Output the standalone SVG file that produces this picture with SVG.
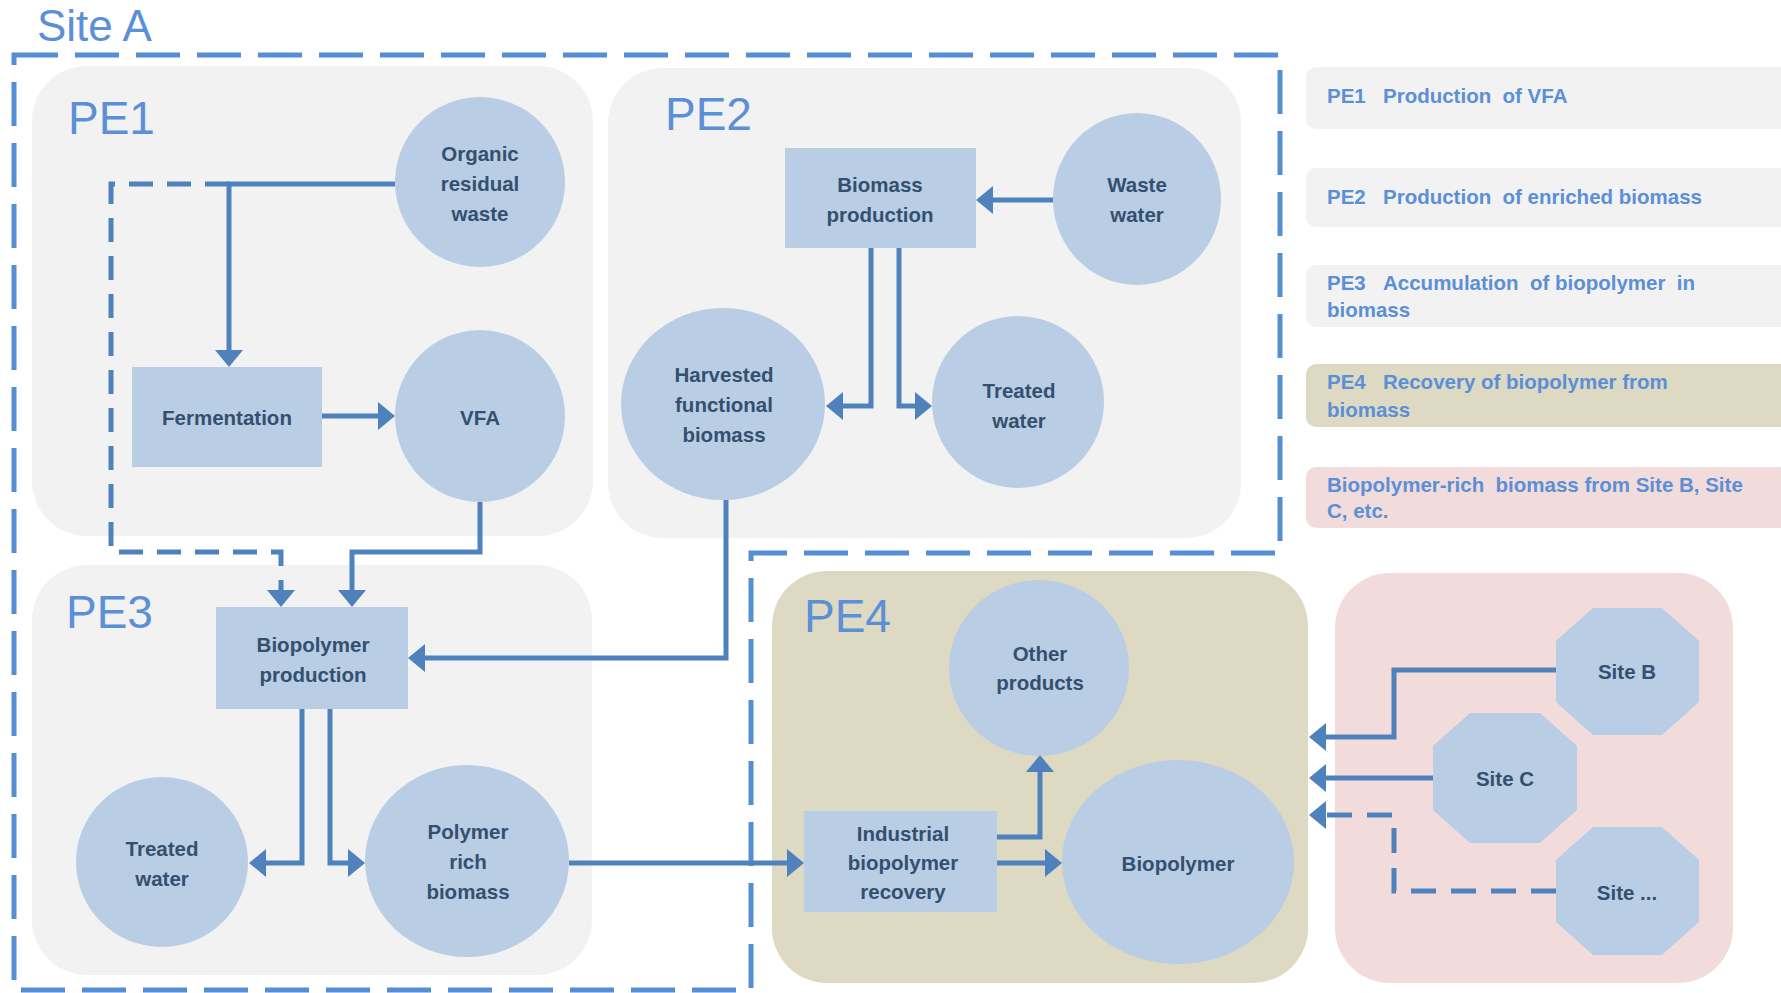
<svg xmlns="http://www.w3.org/2000/svg" width="1781" height="993" viewBox="0 0 1781 993">
<defs>
<style>
.pe{fill:#f2f2f2}
.lbl{font-family:"Liberation Sans",Arial,sans-serif;font-size:46px;fill:#5b8fd6}
.node{fill:#b9cde5}
.nt{font-family:"Liberation Sans",Arial,sans-serif;font-size:20.5px;font-weight:bold;fill:#34506f;text-anchor:middle}
.lt{font-family:"Liberation Sans",Arial,sans-serif;font-size:20.5px;font-weight:bold;fill:#5b8fd6;white-space:pre}
.c{fill:none;stroke:#4f81bd;stroke-width:5;marker-end:url(#ah)}
.d{stroke-dasharray:24 14}
.site{fill:none;stroke:#558ed5;stroke-width:5;stroke-dasharray:44 17}
</style>
<marker id="ah" viewBox="0 0 17 28" refX="7" refY="14" markerWidth="17" markerHeight="28" markerUnits="userSpaceOnUse" orient="auto">
<path d="M0,0 L17,14 L0,28 Z" fill="#4f81bd"/>
</marker>
</defs>
<rect width="1781" height="993" fill="#ffffff"/>

<g id="legend">
<rect x="1306" y="67" width="490" height="62" rx="10" fill="#f2f2f2"/>
<text class="lt" y="103" xml:space="preserve"><tspan x="1327">PE1</tspan><tspan x="1383">Production  of VFA</tspan></text>
<rect x="1306" y="168" width="490" height="59" rx="10" fill="#f2f2f2"/>
<text class="lt" y="204" xml:space="preserve"><tspan x="1327">PE2</tspan><tspan x="1383">Production  of enriched biomass</tspan></text>
<rect x="1306" y="265" width="490" height="62" rx="10" fill="#f2f2f2"/>
<text class="lt" y="290" xml:space="preserve"><tspan x="1327">PE3</tspan><tspan x="1383">Accumulation  of biopolymer  in</tspan></text>
<text class="lt" x="1327" y="317">biomass</text>
<rect x="1306" y="364" width="490" height="63" rx="10" fill="#ddd9c3"/>
<text class="lt" y="389" xml:space="preserve"><tspan x="1327">PE4</tspan><tspan x="1383">Recovery of biopolymer from</tspan></text>
<text class="lt" x="1327" y="417">biomass</text>
<rect x="1306" y="467" width="490" height="61" rx="10" fill="#f2dcdb"/>
<text class="lt" x="1327" y="492" xml:space="preserve">Biopolymer-rich  biomass from Site B, Site</text>
<text class="lt" x="1327" y="518">C, etc.</text>
</g>

<g id="PE1">
<rect class="pe" x="32" y="66" width="561" height="470" rx="55"/>
<text class="lbl" x="68" y="134">PE1</text>
</g>
<g id="PE2">
<rect class="pe" x="608" y="68" width="633" height="470" rx="55"/>
<text class="lbl" x="665" y="130">PE2</text>
</g>
<g id="PE3">
<rect class="pe" x="32" y="565" width="560" height="410" rx="55"/>
<text class="lbl" x="66" y="628">PE3</text>
</g>
<g id="PE4">
<rect x="772" y="571" width="536" height="412" rx="55" fill="#ddd9c3"/>
<text class="lbl" x="804" y="632">PE4</text>
</g>
<g id="other-sites">
<rect x="1335" y="573" width="398" height="410" rx="55" fill="#f2dcdb"/>
</g>

<g id="site-a">
<path class="site" d="M14,55 H1280 V553 H751 V990 H14 Z"/>
<text x="37" y="41" font-family="Liberation Sans, Arial, sans-serif" font-size="44" fill="#5b8fd6">Site A</text>
</g>

<g id="connectors">
<path class="c" d="M395,184 H229 V357"/>
<path class="c d" d="M229,184 H111 V552 H281 V597"/>
<path class="c" d="M322,416 H385"/>
<path class="c" d="M480,502 V552 H352 V597"/>
<path class="c" d="M1053,200 H986"/>
<path class="c" d="M871,248 V406 H836"/>
<path class="c" d="M899,248 V406 H922"/>
<path class="c" d="M726,500 V658 H418"/>
<path class="c" d="M302,709 V863 H259"/>
<path class="c" d="M330,709 V863 H355"/>
<path class="c" d="M569,863 H794"/>
<path class="c" d="M997,863 H1052"/>
<path class="c" d="M997,837 H1040 V765"/>
<path class="c" d="M1556,670 H1394 V737 H1319"/>
<path class="c" d="M1433,778 H1319"/>
<path class="c" d="M1556,891 H1394 V815 H1319" stroke-dasharray="25 15"/>
</g>

<g id="organic-waste">
<ellipse class="node" cx="480" cy="182" rx="85" ry="85"/>
<text class="nt" x="480" y="161">Organic</text>
<text class="nt" x="480" y="191">residual</text>
<text class="nt" x="480" y="221">waste</text>
</g>
<g id="fermentation">
<rect class="node" x="132" y="367" width="190" height="100"/>
<text class="nt" x="227" y="425">Fermentation</text>
</g>
<g id="vfa">
<ellipse class="node" cx="480" cy="416" rx="85" ry="86"/>
<text class="nt" x="480" y="425">VFA</text>
</g>
<g id="biomass-production">
<rect class="node" x="785" y="148" width="191" height="100"/>
<text class="nt" x="880" y="192">Biomass</text>
<text class="nt" x="880" y="222">production</text>
</g>
<g id="waste-water">
<ellipse class="node" cx="1137" cy="199" rx="84" ry="86"/>
<text class="nt" x="1137" y="192">Waste</text>
<text class="nt" x="1137" y="222">water</text>
</g>
<g id="harvested-biomass">
<ellipse class="node" cx="723" cy="404" rx="102" ry="96"/>
<text class="nt" x="724" y="382">Harvested</text>
<text class="nt" x="724" y="412">functional</text>
<text class="nt" x="724" y="442">biomass</text>
</g>
<g id="treated-water-2">
<ellipse class="node" cx="1018" cy="402" rx="86" ry="86"/>
<text class="nt" x="1019" y="398">Treated</text>
<text class="nt" x="1019" y="428">water</text>
</g>
<g id="biopolymer-production">
<rect class="node" x="216" y="607" width="192" height="102"/>
<text class="nt" x="313" y="652">Biopolymer</text>
<text class="nt" x="313" y="682">production</text>
</g>
<g id="treated-water-3">
<ellipse class="node" cx="162" cy="862" rx="86" ry="85"/>
<text class="nt" x="162" y="856">Treated</text>
<text class="nt" x="162" y="886">water</text>
</g>
<g id="polymer-rich-biomass">
<ellipse class="node" cx="467" cy="861" rx="102" ry="96"/>
<text class="nt" x="468" y="839">Polymer</text>
<text class="nt" x="468" y="869">rich</text>
<text class="nt" x="468" y="899">biomass</text>
</g>
<g id="industrial-recovery">
<rect class="node" x="804" y="811" width="193" height="101"/>
<text class="nt" x="903" y="841">Industrial</text>
<text class="nt" x="903" y="870">biopolymer</text>
<text class="nt" x="903" y="899">recovery</text>
</g>
<g id="other-products">
<ellipse class="node" cx="1039" cy="668" rx="90" ry="88"/>
<text class="nt" x="1040" y="661">Other</text>
<text class="nt" x="1040" y="690">products</text>
</g>
<g id="biopolymer">
<ellipse class="node" cx="1178" cy="862" rx="116" ry="102"/>
<text class="nt" x="1178" y="871">Biopolymer</text>
</g>
<g id="site-b">
<polygon class="node" points="1593,608 1662,608 1699,641 1699,702 1662,735 1593,735 1556,702 1556,641"/>
<text class="nt" x="1627" y="679">Site B</text>
</g>
<g id="site-c">
<polygon class="node" points="1470,713 1540,713 1577,746 1577,810 1540,843 1470,843 1433,810 1433,746"/>
<text class="nt" x="1505" y="786">Site C</text>
</g>
<g id="site-etc">
<polygon class="node" points="1593,827 1662,827 1699,860 1699,922 1662,955 1593,955 1556,922 1556,860"/>
<text class="nt" x="1627" y="900">Site ...</text>
</g>
</svg>
